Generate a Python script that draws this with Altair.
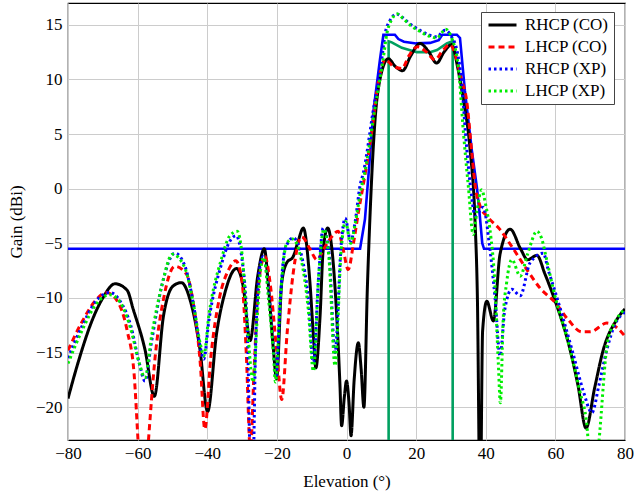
import altair as alt
import pandas as pd

# ---------------- data ----------------
series_names = ["RHCP (CO)", "LHCP (CO)", "RHCP (XP)", "LHCP (XP)"]
series_colors = ["#000000", "#ff0000", "#0000ff", "#00ee00"]
series_dashes = [[1, 0], [6, 4], [2.5, 3], [2.5, 3]]

x_ticks = [-80, -60, -40, -20, 0, 20, 40, 60, 80]
y_ticks = [-20, -15, -10, -5, 0, 5, 10, 15]

rhcp_co_x = [-80, -77, -73, -70, -66.5, -63, -61.3, -57.9, -55.2, -52.6,
             -49.8, -47.4, -45, -42.1, -39.9, -37.3, -34.9, -31.6, -29.7, -27.7,
             -25.5, -23.6, -22.5, -21, -20.1, -18.6, -17.2, -15.3, -13.8, -12.4,
             -10.5, -9.5, -8.8, -7.6, -6.7, -5.4, -4.2, -2.8, -1.9, -1.4,
             -0.6, 0, 0.7, 1.3, 2.2, 3.4, 4.2, 5.0, 6.0, 6.75,
             8.2, 9.6, 12.0, 14.0, 16.1, 18.5, 21.1, 23.5, 25.9, 28.0,
             30.2, 32.0, 33.6, 35.5, 36.9, 37.6, 38.4, 39.1, 40.3, 42.2,
             44.1, 47.0, 50.0, 52.0, 54.7, 57.0, 59.4, 64.2, 66.5, 68.8,
             71.3, 73.8, 77.6, 80]
rhcp_co_y = [-19.2, -15.8, -12.0, -10.0, -8.7, -9.3, -11.0, -14.7, -19.0, -11.7,
             -8.9, -8.6, -10.1, -14.7, -20.4, -13.2, -9.5, -7.3, -8.9, -13.9,
             -8.0, -5.5, -8.6, -14.7, -17.4, -8.6, -6.8, -6.2, -4.7, -3.6,
             -8.6, -13.5, -16.4, -11.7, -5.6, -3.6, -5.5, -11.7, -17.8, -21.7,
             -19.0, -17.6, -19.5, -22.6, -17.5, -14.1, -16.5, -20.0, -9.0, -2.5,
             6.3, 10.0, 11.9, 11.2, 10.8, 12.2, 13.3, 12.6, 11.5, 12.5,
             13.2, 11.0, 8.1, 3.6, -2.8, -10.0, -30.0, -13.0, -10.3, -12.1,
             -6.0, -3.7, -5.5, -6.5, -6.1, -7.8, -9.8, -14.7, -18.0, -21.9,
             -18.2, -14.7, -12.0, -11.0]

lhcp_co_x = [-80, -76, -72, -69, -66, -63, -61, -59.8, -58.5, -57,
             -55, -52.5, -49.3, -46, -44, -42, -40.7, -39, -36.5, -34,
             -31.8, -30, -28.8, -27.6, -26.6, -25.5, -24.5, -23.4, -22, -20,
             -18.6, -17, -15.3, -12.9, -10.5, -8.5, -6.5, -4.5, -2.4, -1,
             0.5, 2, 3.5, 4.4, 7.2, 9.1, 11.1, 13.5, 15.9, 18,
             20.4, 23, 25.4, 27.5, 29.7, 31.5, 33, 34.5, 36, 37,
             38.4, 40.3, 44, 47.5, 51.8, 55.6, 59.9, 63.7, 67.6, 70,
             74.8, 77.6, 80]
lhcp_co_y = [-14.8, -12.2, -10.2, -9.5, -10.2, -13.0, -17.0, -23.5, -30.0, -23.5,
             -15.5, -10.0, -7.1, -7.8, -10.5, -16.0, -22.0, -15.5, -10.0, -7.5,
             -6.6, -8.5, -15.0, -24.0, -17.0, -10.0, -7.0, -6.2, -8.5, -15.0,
             -19.3, -13.0, -7.7, -4.4, -5.5, -6.5, -5.5, -4.5, -3.9, -5.5,
             -7.4, -5.0, -2.0, -0.4, 5.1, 9.7, 11.8, 11.2, 11.0, 12.2,
             13.0, 12.5, 11.8, 12.6, 13.2, 12.0, 10.0, 8.1, 3.3, 0.2,
             -1.6, -2.5, -3.7, -5.3, -7.4, -9.1, -10.4, -12.0, -13.1, -13.1,
             -12.3, -12.7, -13.5]

rhcp_xp_x = [-80, -76, -72, -68, -65, -62, -59.5, -57.9, -56, -53,
             -49.3, -46.5, -44, -42, -41, -39.5, -36, -33.5, -31.7, -30,
             -28.5, -27.2, -26, -24.8, -23.9, -22.5, -21, -20.3, -19, -17.7,
             -15.3, -13, -11, -9.5, -8, -6.7, -5, -3.3, -1.5, -0.4,
             1.2, 2.5, 3.9, 4.8, 7.7, 10.1, 11.1, 12.5, 14.4, 16,
             18.2, 21.1, 23.5, 25.9, 28.3, 30.2, 31.7, 33.1, 34.2, 35.5,
             37, 39.3, 41, 42.7, 44.1, 45.5, 47.5, 49.9, 52.7, 56.5,
             58, 60, 65, 68, 70.5, 72.5, 74.8, 77, 80]
rhcp_xp_y = [-15.5, -12.6, -10.3, -9.5, -10.3, -12.5, -16.0, -17.6, -14.0, -8.8,
             -5.9, -7.0, -10.5, -14.5, -15.6, -12.0, -7.0, -4.8, -4.3, -6.5,
             -13.0, -30.0, -13.0, -7.0, -6.2, -9.0, -14.5, -17.3, -10.0, -5.6,
             -4.5, -6.0, -10.0, -15.9, -8.0, -3.6, -6.0, -15.0, -5.0, -2.7,
             -4.8, -3.0, 0.3, 1.4, 7.2, 11.8, 14.2, 15.4, 16.0, 15.7,
             15.1, 14.5, 14.1, 13.9, 14.5, 13.9, 12.7, 9.7, 5.0, 0.5,
             -2.5, -1.7, -5.0, -10.1, -15.3, -11.0, -9.2, -9.8, -6.8, -5.9,
             -7.5, -9.5, -15.0, -18.5, -20.5, -18.0, -14.7, -12.5, -11.3]

lhcp_xp_x = [-80, -76, -72, -68, -65, -62, -59.5, -57.9, -56, -53,
             -50, -46.5, -44, -42, -41, -39.5, -36, -33.5, -31.4, -30,
             -28.5, -26.8, -25.5, -24.5, -23.7, -22.5, -21, -20.4, -19, -17.2,
             -15.5, -13, -11, -9.5, -8, -6.5, -5, -3.3, -1.5, -0.3,
             1.2, 2.5, 4.2, 5.2, 8, 10.5, 11.6, 13, 14.6, 16.2,
             18.2, 21.1, 23.5, 25.9, 28.5, 30.2, 32.1, 33.6, 35, 36.4,
             37.5, 38.8, 40, 41.5, 42.5, 43.6, 44.2, 45, 46, 47.5,
             49.9, 52, 54.7, 56, 57.5, 59.4, 64.2, 67, 69, 70.7,
             72.4, 75, 77.5, 80]
lhcp_xp_y = [-16.0, -13.0, -10.6, -9.7, -10.4, -12.8, -16.0, -17.3, -13.5, -8.8,
             -6.0, -7.2, -10.5, -14.2, -15.3, -11.5, -6.5, -4.3, -3.9, -6.0,
             -12.5, -17.7, -11.0, -7.0, -6.3, -9.8, -15.0, -17.7, -10.0, -5.0,
             -4.6, -6.5, -11.0, -16.7, -8.0, -3.7, -6.5, -16.2, -5.5, -3.0,
             -5.0, -3.2, 0.0, 1.4, 7.0, 11.8, 14.2, 15.5, 16.0, 15.6,
             15.0, 14.4, 14.0, 13.8, 14.6, 13.8, 11.2, 5.1, 0.2, -4.2,
             -2.0, -0.1, -1.5, -4.5, -8.0, -15.9, -19.6, -12.0, -8.6, -6.5,
             -8.0, -6.0, -3.9, -4.5, -6.5, -9.2, -14.7, -18.5, -21.5, -28.0,
             -23.5, -14.0, -12.0, -11.0]

# mask lines (not in legend)
mask_blue_x = [-80, 3.9, 5.3, 6.5, 7.7, 9.6, 10.6, 13.9, 14.9, 16.5,
               20, 24, 26.5, 27.5, 31.7, 32.6, 34, 36, 37.5, 38.3,
               39.0, 39.5, 80]
mask_blue_y = [-5.5, -5.5, -2.8, 2.0, 7.0, 11.8, 14.1, 14.1, 13.7, 13.45,
               13.3, 13.35, 13.6, 14.1, 14.1, 13.8, 9.0, 3.5, 0.0, -2.5,
               -5.0, -5.5, -5.5]
mask_green_x = [12.1, 12.1, 13.0, 15.9, 20.2, 24.0, 26.0, 28.8, 30.5, 30.5]
mask_green_y = [-30, 13.5, 13.4, 12.9, 12.5, 12.5, 12.7, 13.3, 13.5, -30]

# ---------------- build tables ----------------
rows = []
for name, xs, ys in [("RHCP (CO)", rhcp_co_x, rhcp_co_y),
                     ("LHCP (CO)", lhcp_co_x, lhcp_co_y),
                     ("RHCP (XP)", rhcp_xp_x, rhcp_xp_y),
                     ("LHCP (XP)", lhcp_xp_x, lhcp_xp_y)]:
    assert len(xs) == len(ys), name
    for i, (x, y) in enumerate(zip(xs, ys)):
        rows.append({"series": name, "elev": x, "gain": y, "i": i})
df = pd.DataFrame(rows)

blue_mask_df = pd.DataFrame({"elev": mask_blue_x, "gain": mask_blue_y,
                             "i": list(range(len(mask_blue_x)))})
green_mask_df = pd.DataFrame({"elev": mask_green_x, "gain": mask_green_y,
                              "i": list(range(len(mask_green_x)))})

FONT = "Liberation Serif"
FS = 17

xscale = alt.Scale(domain=[-80, 80], nice=False, zero=False)
yscale = alt.Scale(domain=[-23, 17], nice=False, zero=False)

xaxis = alt.Axis(values=x_ticks, title="Elevation (°)", grid=True, ticks=False,
                 tickSize=0, domain=False, labelPadding=5, titlePadding=12,
                 labelFlush=False, labelFont=FONT, labelFontSize=FS, labelColor="black",
                 titleFont=FONT, titleFontSize=FS, titleColor="black",
                 titleFontWeight="normal", gridColor="#cccccc")
yaxis = alt.Axis(values=y_ticks, title="Gain (dBi)", grid=True, ticks=False,
                 tickSize=0, domain=False, labelPadding=6, titlePadding=10,
                 labelFlush=False, labelFont=FONT, labelFontSize=FS, labelColor="black",
                 titleFont=FONT, titleFontSize=FS, titleColor="black",
                 titleFontWeight="normal", gridColor="#cccccc")


def mask_chart(data, colour):
    return alt.Chart(data).mark_line(clip=True, strokeWidth=2.6, color=colour,
                                     interpolate="linear").encode(
        x=alt.X("elev:Q", scale=xscale, axis=xaxis),
        y=alt.Y("gain:Q", scale=yscale, axis=yaxis),
        order="i:Q",
    )


legend = alt.Legend(title=None, orient="none", legendX=413, legendY=9,
                    fillColor="white", strokeColor="#444444", padding=5,
                    labelFont=FONT, labelFontSize=FS, labelColor="black",
                    symbolType="stroke", symbolSize=784, symbolStrokeWidth=3,
                    clipHeight=16, rowPadding=5, labelOffset=7, symbolOffset=1)

lines = alt.Chart(df).mark_line(clip=True, strokeWidth=3, interpolate="monotone").encode(
    x=alt.X("elev:Q", scale=xscale, axis=xaxis),
    y=alt.Y("gain:Q", scale=yscale, axis=yaxis),
    color=alt.Color("series:N", scale=alt.Scale(domain=series_names, range=series_colors),
                    legend=legend, sort=series_names),
    strokeDash=alt.StrokeDash("series:N", scale=alt.Scale(domain=series_names, range=series_dashes),
                              legend=legend, sort=series_names),
    order="i:Q",
)

chart = alt.layer(mask_chart(blue_mask_df, "#0000ff"),
                  mask_chart(green_mask_df, "#00a060"),
                  lines).properties(
    width=557, height=437,
    background="white",
    autosize=alt.AutoSizeParams(type="none"),
    padding={"left": 68, "top": 3, "right": 9, "bottom": 51},
).configure_view(stroke="black", strokeWidth=1.2)

chart.save("out.html", embed_options={"renderer": "svg", "actions": False})
